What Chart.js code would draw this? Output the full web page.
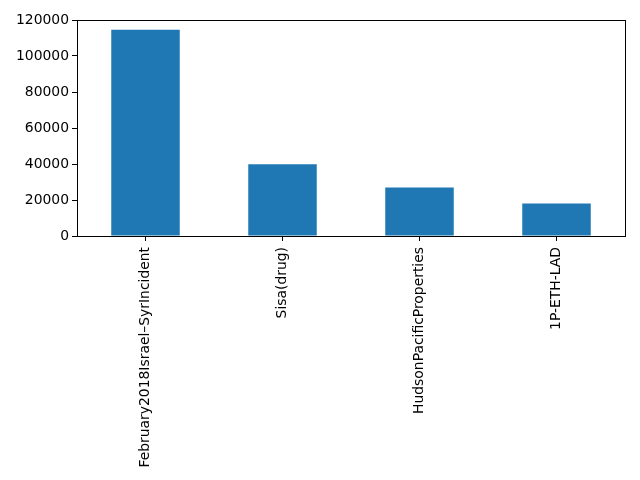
<!DOCTYPE html>
<html>
<head>
<meta charset="utf-8">
<script src="https://cdn.jsdelivr.net/npm/chart.js@4/dist/chart.umd.min.js"></script>
<style>
  html, body { margin: 0; padding: 0; background: #fff; }
  #wrap { width: 640px; height: 480px; }
</style>
</head>
<body>
<div id="wrap"><canvas id="chart" width="640" height="480"></canvas></div>
<script>
// chart data
const categories = ['February2018Israel–SyrIncident', 'Sisa(drug)', 'HudsonPacificProperties', '1P-ETH-LAD'];
const values = [114600, 39800, 27000, 18000];
const yTicks = [0, 20000, 40000, 60000, 80000, 100000, 120000];

// draw the full frame round the plot, like matplotlib spines
const framePlugin = {
  id: 'frame',
  afterDraw(chart) {
    const a = chart.chartArea;
    const ctx = chart.ctx;
    ctx.save();
    ctx.strokeStyle = '#000';
    ctx.lineWidth = 1;
    ctx.strokeRect(Math.round(a.left) + 0.5, Math.round(a.top) + 0.5,
      Math.round(a.right - a.left), Math.round(a.bottom - a.top));
    ctx.restore();
  }
};

const font = { family: 'DejaVu Sans', size: 13.9 };

new Chart(document.getElementById('chart'), {
  type: 'bar',
  data: {
    labels: categories,
    datasets: [{
      data: values,
      backgroundColor: '#1f77b4',
      borderWidth: 0,
      barPercentage: 0.5,
      categoryPercentage: 1.0
    }]
  },
  options: {
    responsive: false,
    animation: false,
    devicePixelRatio: 1,
    layout: { padding: { top: 20, right: 15, left: 0, bottom: 0 } },
    plugins: { legend: { display: false }, tooltip: { enabled: false } },
    scales: {
      x: {
        offset: true,
        grid: { display: true, drawOnChartArea: false, tickLength: 5, color: '#000', offset: false },
        border: { display: false },
        ticks: { color: '#000', font: font, minRotation: 90, maxRotation: 90, padding: 6, autoSkip: false },
        afterFit(scale) { scale.height = 244; }
      },
      y: {
        min: 0,
        max: 120000,
        afterBuildTicks(scale) { scale.ticks = yTicks.map(v => ({ value: v })); },
        grid: { display: true, drawOnChartArea: false, tickLength: 5, color: '#000' },
        border: { display: false },
        ticks: { color: '#000', font: font, padding: 3, callback: v => String(v) },
        afterFit(scale) { scale.width = 77; }
      }
    }
  },
  plugins: [framePlugin]
});
</script>
</body>
</html>
